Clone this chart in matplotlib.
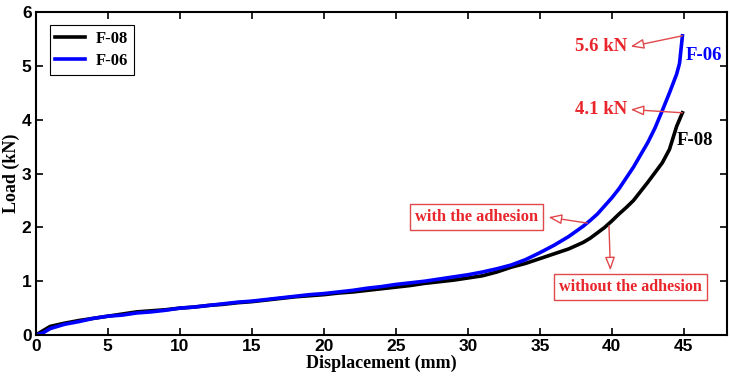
import numpy as np
import matplotlib
matplotlib.use('Agg')
import matplotlib.pyplot as plt
from matplotlib import font_manager

# ── Data (load vs. displacement) ─────────────────────────────────
disp_06 = [0, 0.5, 1, 2, 3, 4, 5, 6, 7, 8, 9, 10, 11, 12, 13, 14, 15, 16, 17,
           18, 19, 20, 21, 22, 23, 24, 25, 26, 27, 28, 29, 30, 31, 32, 33, 34,
           35, 36, 37, 38, 38.5, 39, 39.5, 40, 40.5, 41, 41.5, 42, 42.5, 43,
           43.5, 44, 44.5, 44.7, 44.9]
load_06 = [0.00, 0.04, 0.12, 0.20, 0.25, 0.31, 0.35, 0.37, 0.41, 0.43, 0.46,
           0.50, 0.52, 0.55, 0.58, 0.61, 0.63, 0.66, 0.69, 0.72, 0.75, 0.77,
           0.80, 0.83, 0.87, 0.90, 0.94, 0.97, 1.00, 1.04, 1.08, 1.12, 1.17,
           1.23, 1.30, 1.40, 1.53, 1.67, 1.83, 2.02, 2.13, 2.25, 2.40, 2.55,
           2.72, 2.92, 3.12, 3.35, 3.58, 3.85, 4.17, 4.50, 4.85, 5.05, 5.56]
disp_08 = [0, 0.5, 1, 2, 3, 4, 5, 6, 7, 8, 9, 10, 11, 12, 13, 14, 15, 16, 17,
           18, 19, 20, 21, 22, 23, 24, 25, 26, 27, 28, 29, 30, 31, 32, 33, 34,
           35, 36, 37, 38, 38.5, 39, 39.5, 40, 40.5, 41, 41.5, 42, 42.5, 43,
           43.5, 44, 44.5, 44.9]
load_08 = [0.00, 0.08, 0.16, 0.22, 0.27, 0.31, 0.35, 0.39, 0.43, 0.45, 0.47,
           0.50, 0.52, 0.55, 0.57, 0.60, 0.62, 0.65, 0.68, 0.71, 0.73, 0.75,
           0.78, 0.80, 0.83, 0.86, 0.89, 0.92, 0.96, 0.99, 1.02, 1.06, 1.10,
           1.17, 1.26, 1.33, 1.42, 1.51, 1.60, 1.72, 1.80, 1.90, 2.00, 2.12,
           2.25, 2.37, 2.50, 2.67, 2.84, 3.02, 3.20, 3.45, 3.88, 4.13]
peak_labels = ['5.6 kN', '4.1 kN']

serif = 'Liberation Serif'
names = {f.name for f in font_manager.fontManager.ttflist}
tick_font = 'Liberation Sans Narrow' if 'Liberation Sans Narrow' in names else 'Liberation Sans'
red = '#e8262b'
ared = '#e0484c'

fig = plt.figure(figsize=(7.3, 3.79), dpi=100)
ax = fig.add_axes([0.049, 0.116, 0.947, 0.852])

ax.plot(disp_08, load_08, color='black', linewidth=2.6, label='F-08')
ax.plot(disp_06, load_06, color='#0000ff', linewidth=2.6, label='F-06')

ax.set_xlim(0, 48)
ax.set_ylim(0, 6)
ax.set_xticks(np.arange(0, 46, 5))
ax.set_yticks(np.arange(0, 7, 1))
ax.tick_params(direction='in', top=True, right=True, length=5, width=1.2)
ax.tick_params(axis='x', pad=3)
ax.tick_params(axis='y', pad=3)
for lbl in ax.get_xticklabels() + ax.get_yticklabels():
    lbl.set_fontfamily(tick_font)
    lbl.set_fontweight('bold')
    lbl.set_fontsize(12.5)
for s in ax.spines.values():
    s.set_linewidth(1.5)

ax.set_xlabel('Displacement (mm)', fontfamily=serif, fontweight='bold', fontsize=13, labelpad=0)
ax.set_ylabel('Load (kN)', fontfamily=serif, fontweight='bold', fontsize=13, labelpad=1)

leg = ax.legend(loc='upper left', bbox_to_anchor=(0.008, 0.985), fancybox=False,
                edgecolor='black', framealpha=1, handlelength=1.8, borderpad=0.35,
                labelspacing=0.35, handletextpad=0.6,
                prop={'family': serif, 'weight': 'bold', 'size': 12})
leg.get_frame().set_linewidth(0.8)

# ── Annotations ─────────────────────────────────────────────────
arrow = dict(arrowstyle='-|>,head_length=0.8,head_width=0.3', fc='white', ec=ared, lw=1.0,
             shrinkA=0, shrinkB=0)
ax.annotate('', xy=(41.3, 5.36), xytext=(disp_06[-1], load_06[-1]), arrowprops=arrow)
ax.text(41.1, 5.36, peak_labels[0], ha='right', va='center', color=red,
        fontfamily=serif, fontweight='bold', fontsize=13.5)
ax.annotate('', xy=(41.3, 4.19), xytext=(disp_08[-1], load_08[-1]), arrowprops=arrow)
ax.text(41.1, 4.19, peak_labels[1], ha='right', va='center', color=red,
        fontfamily=serif, fontweight='bold', fontsize=13.5)

ax.text(45.1, 5.2, 'F-06', ha='left', va='center', color='#0000ff',
        fontfamily=serif, fontweight='bold', fontsize=13.5)
ax.text(44.5, 3.62, 'F-08', ha='left', va='center', color='black',
        fontfamily=serif, fontweight='bold', fontsize=13.5)

box = dict(boxstyle='square,pad=0.3', fc='white', ec=ared, lw=1.0)
ax.text(30.6, 2.19, 'with the adhesion', ha='center', va='center', color=red,
        fontfamily=serif, fontweight='bold', fontsize=11.8, bbox=box)
ax.annotate('', xy=(35.6, 2.19), xytext=(38.3, 2.08), arrowprops=arrow)
ax.text(41.3, 0.89, 'without the adhesion', ha='center', va='center', color=red,
        fontfamily=serif, fontweight='bold', fontsize=11.6, bbox=box)
ax.annotate('', xy=(39.9, 1.2), xytext=(39.8, 2.03), arrowprops=arrow)

plt.savefig('out.png', dpi=100)
plt.close()
